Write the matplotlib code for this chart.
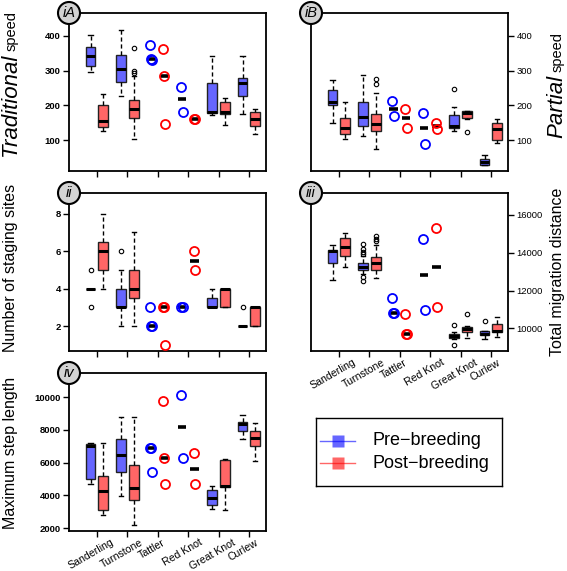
import matplotlib
matplotlib.use("Agg")
import matplotlib.pyplot as plt
import matplotlib.transforms as mtransforms
import numpy as np
from matplotlib.patches import Ellipse

plt.rcParams['font.family'] = ['Liberation Sans', 'DejaVu Sans']

species = ["Sanderling", "Turnstone", "Tattler", "Red Knot", "Great Knot", "Curlew"]
box_species = [0, 1, 4, 5]   # enough birds -> boxplot
pt_species = [2, 3]          # few birds -> points + median dash

# box stats: (whislo, q1, med, q3, whishi, fliers) for Sanderling, Turnstone, Great Knot, Curlew
# points: Tattler, Red Knot
trad_pre = [(295, 314, 341, 367, 404, []), (226, 267, 306, 345, 418, []),
            (173, 177, 182, 264, 341, []), (176, 228, 265, 279, 341, [])]
trad_post = [(125, 139, 154, 200, 234, []), (103, 165, 190, 216, 284, [366, 298, 293]),
             (144, 174, 182, 211, 222, []), (118, 142, 161, 180, 189, [])]
trad_pre_pts = [[373, 333, 331], [254, 182]]
trad_post_pts = [[362, 285, 147], [162, 160]]

part_pre = [(149, 200, 210, 244, 272, []), (112, 142, 167, 210, 287, []),
            (127, 136, 142, 172, 195, [247]), (27, 29, 38, 46, 56, [])]
part_post = [(104, 118, 135, 165, 210, []), (73, 125, 145, 176, 235, [276, 262]),
             (162, 165, 177, 183, 185, [124]), (93, 100, 132, 149, 161, [])]
part_pre_pts = [[213, 168], [179, 89]]
part_post_pts = [[190, 135], [149, 131]]

stag_pre = [(4, 4, 4, 4, 4, [5, 3]), (2, 3, 3, 4, 5, [6]),
            (3, 3, 3, 3.5, 4, []), (2, 2, 2, 2, 2, [3])]
stag_post = [(4, 5, 6, 6.5, 8, []), (2, 3.5, 4, 5, 7, []),
             (3, 3, 4, 4, 4, []), (2, 2, 3, 3, 3, [])]
stag_pre_pts = [[3, 2, 2], [3, 3]]
stag_post_pts = [[3, 3, 1], [6, 5]]

dist_pre = [(12570, 13470, 14090, 14130, 14430, []),
            (12900, 13100, 13260, 13470, 13800, [14480, 14180, 14050, 13950, 12700, 12520]),
            (9450, 9500, 9590, 9710, 9800, [10190, 9115]),
            (9450, 9630, 9730, 9840, 9870, [10400])]
dist_post = [(13250, 13810, 14300, 14770, 15060, []),
             (12660, 13070, 13460, 13780, 14400, [14860, 14740, 14620]),
             (9500, 9800, 9980, 10100, 10150, [10760]),
             (9550, 9790, 9840, 10240, 10610, [])]
dist_pre_pts = [[11620, 10810, 10810], [14730, 10950]]
dist_post_pts = [[10770, 9710, 9710], [15310, 11130]]

step_pre = [(4720, 4990, 7030, 7130, 7180, []), (3950, 5440, 6460, 7470, 8810, []),
            (3200, 3440, 3870, 4340, 4600, []), (7450, 7960, 8330, 8490, 8880, [])]
step_post = [(2790, 3100, 4280, 5210, 7230, []), (2220, 3710, 4440, 5880, 8800, []),
             (3140, 4520, 4580, 6170, 6250, []), (6090, 7010, 7500, 7960, 8430, [])]
step_pre_pts = [[6885, 6885, 5440], [10100, 6290]]
step_post_pts = [[9760, 6290, 4690], [6600, 4690]]

legend_labels = ["Pre\u2212breeding", "Post\u2212breeding"]

BLUE_FILL = (0.4, 0.4, 1.0)
RED_FILL = (1.0, 0.4, 0.4)

W, H = 567, 571
fig = plt.figure(figsize=(W / 100, H / 100), dpi=100)


def make_ax(left, top, right, bottom):
    return fig.add_axes([left / W, 1 - bottom / H, (right - left) / W, (bottom - top) / H])


def draw_panel(ax, pre, post, pre_pts, post_pts):
    groups = ((pre, pre_pts, -0.21, BLUE_FILL, 'blue'),
              (post, post_pts, 0.21, RED_FILL, 'red'))
    for stats, pts, off, fill, ptcol in groups:
        bx = [dict(whislo=s[0], q1=s[1], med=s[2], q3=s[3], whishi=s[4], fliers=s[5])
              for s in stats]
        pos = [k + 1 + off for k in box_species]
        ax.bxp(bx, positions=pos, widths=0.32, patch_artist=True, manage_ticks=False,
               boxprops=dict(facecolor=fill, edgecolor='#222222', linewidth=1),
               medianprops=dict(color='black', linewidth=2.2, solid_capstyle='butt'),
               whiskerprops=dict(color='black', linewidth=1, linestyle=(0, (3, 2))),
               capprops=dict(color='black', linewidth=1), capwidths=0.14,
               flierprops=dict(marker='o', markersize=3.2, markerfacecolor='none',
                               markeredgecolor='black', markeredgewidth=0.8))
        for k, vals in zip(pt_species, pts):
            x = k + 1 + off
            med = np.median(vals)
            ax.plot([x - 0.14, x + 0.14], [med, med], color='black', lw=2.6,
                    solid_capstyle='butt', zorder=3)
            xs = x + np.linspace(-0.03, 0.03, len(vals))
            ax.plot(xs, vals, 'o', mfc='none', mec=ptcol, ms=6.5, mew=1.3, zorder=4)
    ax.set_xlim(0.08, 6.56)
    ax.set_xticks(range(1, 7))
    for sp in ax.spines.values():
        sp.set_linewidth(1.3)
    ax.tick_params(length=4, width=1, labelsize=6.8, pad=2)
    ax.tick_params(axis='x', pad=0.5)
    for lab in ax.get_yticklabels():
        lab.set_fontweight('bold')


def panel_tag(ax, txt):
    bb = ax.get_position()
    fig.add_artist(Ellipse((bb.x0, bb.y1), 22 / W, 22 / H, facecolor='#d3d3d3',
                           edgecolor='black', lw=1.5, transform=fig.transFigure, zorder=10))
    fig.text(bb.x0, bb.y1, txt, ha='center', va='center', fontsize=10.5,
             style='italic', zorder=11)


ax1 = make_ax(69, 13, 266, 171)
draw_panel(ax1, trad_pre, trad_post, trad_pre_pts, trad_post_pts)
ax1.set_ylim(11, 466)
ax1.set_yticks([100, 200, 300, 400])
ax1.set_xticklabels([])

ax2 = make_ax(311, 13, 508, 171)
draw_panel(ax2, part_pre, part_post, part_pre_pts, part_post_pts)
ax2.set_ylim(11, 466)
ax2.set_yticks([100, 200, 300, 400])
ax2.yaxis.tick_right()
ax2.set_xticklabels([])

ax3 = make_ax(69, 193, 266, 351)
draw_panel(ax3, stag_pre, stag_post, stag_pre_pts, stag_post_pts)
ax3.set_ylim(0.68, 9.1)
ax3.set_yticks([2, 4, 6, 8])
ax3.set_xticklabels([])

ax4 = make_ax(311, 193, 508, 351)
draw_panel(ax4, dist_pre, dist_post, dist_pre_pts, dist_post_pts)
ax4.set_ylim(8810, 17150)
ax4.set_yticks([10000, 12000, 14000, 16000])
ax4.yaxis.tick_right()

ax5 = make_ax(69, 373, 266, 531)
draw_panel(ax5, step_pre, step_post, step_pre_pts, step_post_pts)
ax5.set_ylim(1835, 11470)
ax5.set_yticks([2000, 4000, 6000, 8000, 10000])

shift = mtransforms.ScaledTranslation(-0.06, 0, fig.dpi_scale_trans)
for ax in (ax4, ax5):
    ax.set_xticklabels(species, rotation=30, ha='center', va='top', fontsize=7.6)
    for lab in ax.get_xticklabels():
        lab.set_transform(lab.get_transform() + shift)

for ax, tag in zip((ax1, ax2, ax3, ax4, ax5), ("iA", "iB", "ii", "iii", "iv")):
    panel_tag(ax, tag)

# axis titles (rotated, baseline anchored)
def side_label(x_px, y_px, txt, size, ha='center', style='normal'):
    fig.text(x_px / W, 1 - y_px / H, txt, rotation=90, rotation_mode='anchor',
             ha=ha, va='baseline', fontsize=size, style=style)


side_label(16, 54, "Traditional", 16, ha='right', style='italic')
side_label(16, 51, "speed", 10.5, ha='left')
side_label(562, 75, "Partial", 16, ha='right', style='italic')
side_label(562, 72, "speed", 10.5, ha='left')
side_label(15.5, 268, "Number of staging sites", 11.5)
side_label(562, 272, "Total migration distance", 11.5)
side_label(15.5, 453, "Maximum step length", 11.5)

# legend box drawn by hand to match the reference layout
lax = make_ax(316, 418, 502, 486)
lax.set_xlim(0, 186)
lax.set_ylim(68, 0)
lax.set_xticks([])
lax.set_yticks([])
for sp in lax.spines.values():
    sp.set_linewidth(1)
for row_y, col, lab in zip([22.7, 45], [(0, 0, 1, 0.6), (1, 0, 0, 0.6)], legend_labels):
    lax.plot([4, 39], [row_y, row_y], color=col, lw=1)
    lax.plot([21.5], [row_y], marker='s', ms=8, mfc=col, mec='none', ls='none')
    lax.text(56, row_y, lab, fontsize=13, va='center', ha='left')

fig.savefig("out.png", dpi=100)
